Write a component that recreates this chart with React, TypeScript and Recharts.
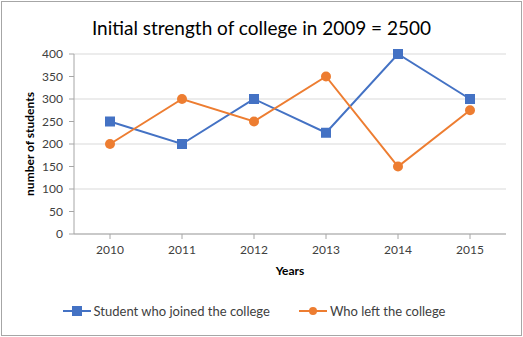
import { LineChart, Line, XAxis, YAxis, CartesianGrid, Legend } from 'recharts'

const years = ['2010', '2011', '2012', '2013', '2014', '2015']
const joined = [250, 200, 300, 225, 400, 300]
const left = [200, 300, 250, 350, 150, 275]
const yTicks = [0, 50, 100, 150, 200, 250, 300, 350, 400]

const data = years.map((year, i) => ({ year, joined: joined[i], left: left[i] }))

const FONT = 'Lato, "Open Sans", sans-serif'

function SquareDot(props: any) {
  const { cx, cy } = props
  if (cx == null || cy == null) return null
  return <rect x={cx - 5} y={cy - 5} width={10} height={10} fill="#4472C4" />
}

function CircleDot(props: any) {
  const { cx, cy } = props
  if (cx == null || cy == null) return null
  return <circle cx={cx} cy={cy} r={5} fill="#ED7D31" />
}

function LegendContent() {
  return (
    <div
      style={{
        height: 56,
        boxSizing: 'border-box',
        paddingTop: 25,
        display: 'flex',
        justifyContent: 'center',
        gap: 29,
        fontFamily: FONT,
        fontSize: 13,
        lineHeight: '14px',
        color: '#404040',
      }}
    >
      <div style={{ display: 'flex', alignItems: 'center', height: 14 }}>
        <svg width={28} height={12} style={{ marginRight: 3 }}>
          <line x1={0} y1={6} x2={28} y2={6} stroke="#4472C4" strokeWidth={2} />
          <rect x={9} y={1} width={10} height={10} fill="#4472C4" />
        </svg>
        Student who joined the college
      </div>
      <div style={{ display: 'flex', alignItems: 'center', height: 14 }}>
        <svg width={28} height={12} style={{ marginRight: 3 }}>
          <line x1={0} y1={6} x2={28} y2={6} stroke="#ED7D31" strokeWidth={2} />
          <circle cx={14} cy={6} r={4} fill="#ED7D31" />
        </svg>
        Who left the college
      </div>
    </div>
  )
}

export default function App() {
  return (
    <div
      style={{
        position: 'absolute',
        left: 1,
        top: 1,
        width: 519,
        height: 333,
        border: '1px solid #a6a6a6',
        background: '#fff',
      }}
    >
      <div
        style={{
          position: 'absolute',
          top: 14,
          width: '100%',
          textAlign: 'center',
          fontFamily: FONT,
          fontSize: 19,
          color: '#000',
        }}
      >
        Initial strength of college in 2009 = 2500
      </div>
      <LineChart
        width={519}
        height={333}
        data={data}
        margin={{ top: 52, right: 15, left: 0, bottom: 0 }}
      >
        <CartesianGrid vertical={false} stroke="#d9d9d9" />
        <XAxis
          dataKey="year"
          stroke="#a6a6a6"
          padding={{ left: 36, right: 36 }}
          tick={{ fill: '#404040', fontSize: 12, fontFamily: FONT }}
          tickSize={5}
          tickMargin={6}
          height={45}
          label={{ value: 'Years', position: 'insideBottom', offset: 4, fill: '#000', fontSize: 12, fontWeight: 'bold', fontFamily: FONT }}
        />
        <YAxis
          domain={[0, 400]}
          ticks={yTicks}
          stroke="#a6a6a6"
          tick={{ fill: '#404040', fontSize: 12, fontFamily: FONT }}
          tickSize={5}
          tickMargin={6}
          width={72}
          label={{ value: 'number of students', angle: -90, position: 'insideLeft', offset: 28, fill: '#000', fontSize: 12, fontWeight: 'bold', fontFamily: FONT, style: { textAnchor: 'middle' } }}
        />
        <Legend verticalAlign="bottom" height={56} content={<LegendContent />} />
        <Line
          type="linear"
          dataKey="joined"
          stroke="#4472C4"
          strokeWidth={2}
          dot={<SquareDot />}
          isAnimationActive={false}
        />
        <Line
          type="linear"
          dataKey="left"
          stroke="#ED7D31"
          strokeWidth={2}
          dot={<CircleDot />}
          isAnimationActive={false}
        />
      </LineChart>
    </div>
  )
}
